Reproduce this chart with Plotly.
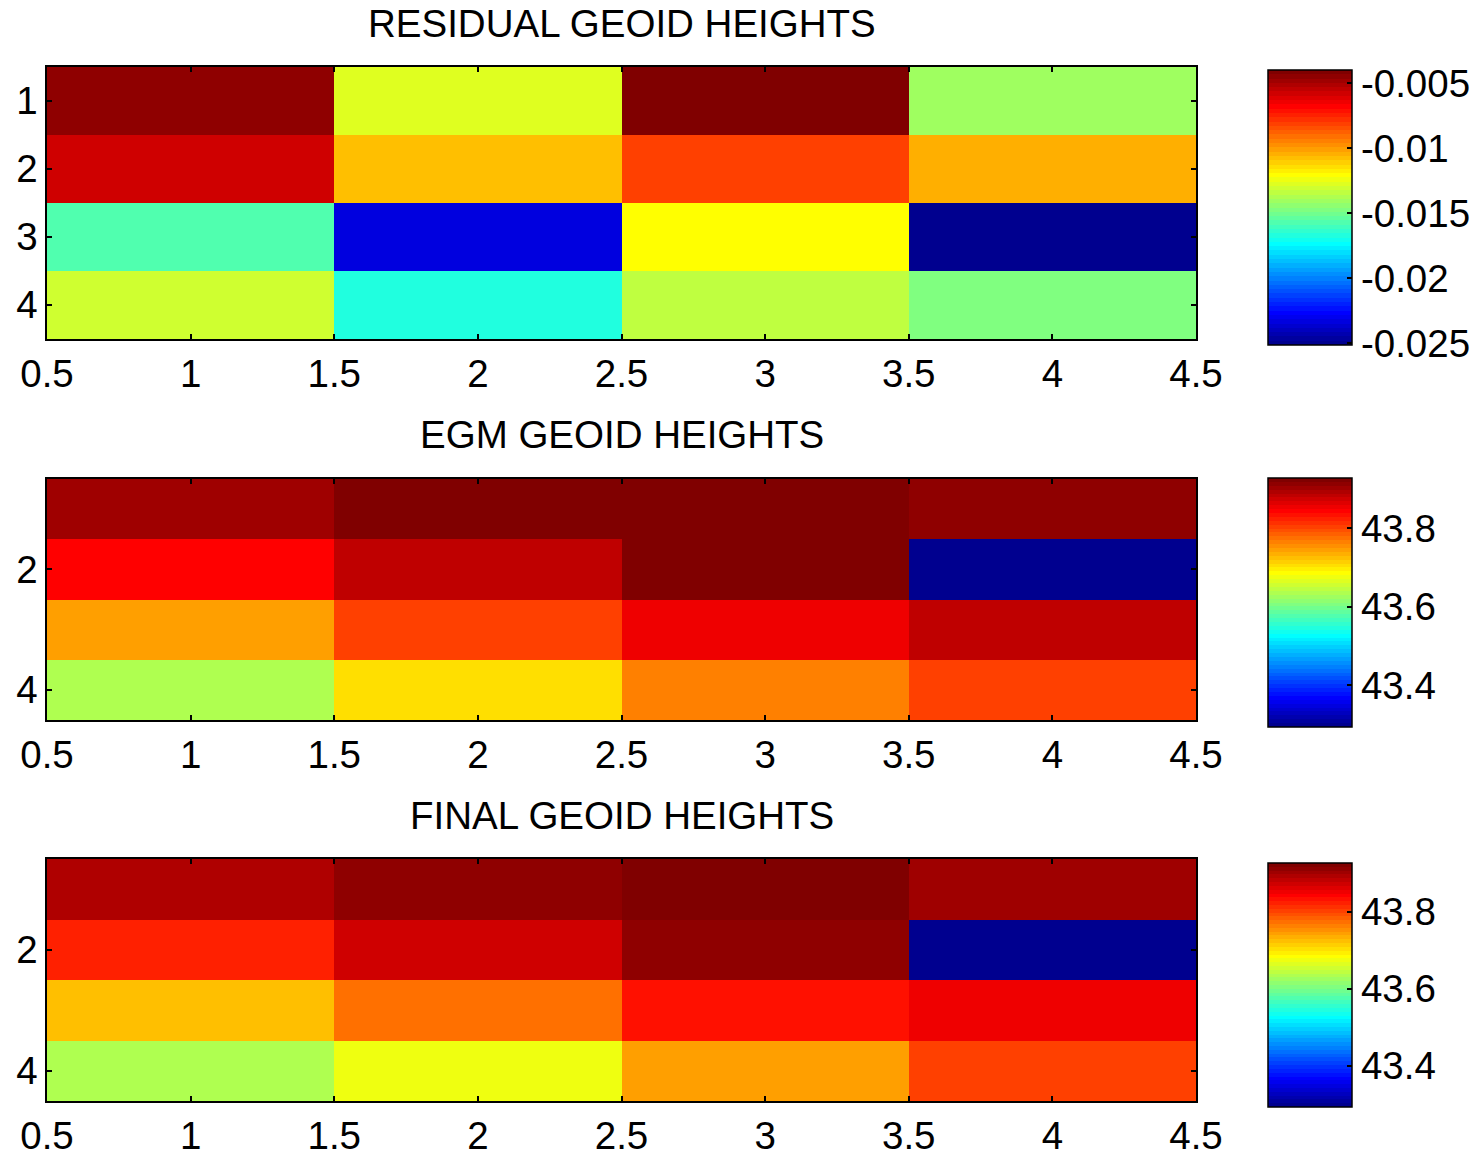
import plotly.graph_objects as go

# ---------------- data ----------------
cols = [1, 2, 3, 4]
rows = [1, 2, 3, 4]

residual = [
    [-0.00447, -0.01274, -0.00398, -0.01408],
    [-0.00580, -0.01075, -0.00811, -0.01044],
    [-0.01573, -0.02333, -0.01209, -0.02515],
    [-0.01308, -0.01672, -0.01340, -0.01473],
]
egm = [
    [43.903, 43.928, 43.925, 43.913],
    [43.844, 43.884, 43.922, 43.2935],
    [43.745, 43.804, 43.854, 43.884],
    [43.636, 43.705, 43.764, 43.804],
]
final = [
    [43.892, 43.912, 43.927, 43.902],
    [43.823, 43.872, 43.912, 43.293],
    [43.724, 43.774, 43.833, 43.853],
    [43.635, 43.675, 43.744, 43.803],
]

titles = ["RESIDUAL GEOID HEIGHTS", "EGM GEOID HEIGHTS", "FINAL GEOID HEIGHTS"]
x_tickvals = [0.5, 1, 1.5, 2, 2.5, 3, 3.5, 4, 4.5]
x_ticktext = ["0.5", "1", "1.5", "2", "2.5", "3", "3.5", "4", "4.5"]
y_ticks_1 = [1, 2, 3, 4]
y_ticks_23 = [2, 4]
cb1_vals = [-0.005, -0.01, -0.015, -0.02, -0.025]
cb1_text = ["-0.005", "-0.01", "-0.015", "-0.02", "-0.025"]
cb23_vals = [43.8, 43.6, 43.4]
cb23_text = ["43.8", "43.6", "43.4"]

# ---------------- jet(64) colormap ----------------
def jet64():
    out = []
    for i in range(1, 65):
        if i <= 8:
            r, g, b = 0, 0, 0.5 + i / 16
        elif i <= 24:
            r, g, b = 0, (i - 8) / 16, 1
        elif i <= 40:
            r, g, b = (i - 24) / 16, 1, 1 - (i - 24) / 16
        elif i <= 56:
            r, g, b = 1, 1 - (i - 40) / 16, 0
        else:
            r, g, b = 1 - (i - 56) / 16, 0, 0
        out.append("rgb(%d,%d,%d)" % (round(r * 255), round(g * 255), round(b * 255)))
    return out

jc = jet64()
jet_scale = []
for k, c in enumerate(jc):
    jet_scale.append([k / 64, c])
    jet_scale.append([(k + 1) / 64, c])

W, H = 1482, 1158
FONT = "Arial, Liberation Sans, sans-serif"
FS = 38.5

# pixel geometry (page pixels; body margin removed below)
px_x0, px_x1 = 47, 1196
panels_y = [(67, 339), (479, 720), (859, 1101)]
cbar_y = [(70, 345), (478, 727), (863, 1107)]
title_y = [23, 434, 815]
cb_x0, cb_x1 = 1268, 1352

def fx(px):
    return px / W

def fy(py):
    return 1 - py / H

fig = go.Figure()
datasets = [residual, egm, final]
for p in range(3):
    z = datasets[p]
    cy0, cy1 = cbar_y[p]
    if p == 0:
        tv, tt = cb1_vals, cb1_text
    else:
        tv, tt = cb23_vals, cb23_text
    fig.add_trace(go.Heatmap(
        z=z, x=cols, y=rows,
        colorscale=jet_scale,
        xaxis="x" if p == 0 else "x%d" % (p + 1),
        yaxis="y" if p == 0 else "y%d" % (p + 1),
        colorbar=dict(
            x=fx(cb_x0), xanchor="left", xpad=0, ypad=0,
            y=fy((cy0 + cy1) / 2), yanchor="middle",
            len=(cy1 - cy0) / H, lenmode="fraction",
            thickness=cb_x1 - cb_x0, thicknessmode="pixels",
            outlinewidth=1.5, outlinecolor="black",
            ticks="inside", ticklen=5, tickwidth=2, tickcolor="black",
            tickvals=tv, ticktext=tt,
            tickfont=dict(family=FONT, size=FS, color="black"),
        ),
        showscale=True,
        hoverinfo="z",
    ))

layout = dict(
    width=W, height=H,
    margin=dict(l=0, r=0, t=0, b=0, pad=0, autoexpand=False),
    paper_bgcolor="white", plot_bgcolor="white",
    showlegend=False,
    annotations=[],
)
for p in range(3):
    sx = "" if p == 0 else str(p + 1)
    y0, y1 = panels_y[p]
    layout["xaxis" + sx] = dict(
        domain=[fx(px_x0), fx(px_x1)], range=[0.5, 4.5],
        anchor="y" + sx, automargin=False,
        tickvals=x_tickvals, ticktext=x_ticktext,
        ticks="inside", ticklen=5, tickwidth=2, tickcolor="black",
        showline=True, linecolor="black", linewidth=1.5, mirror="ticks",
        showgrid=False, zeroline=False,
        tickfont=dict(family=FONT, size=FS, color="black"),
    )
    layout["yaxis" + sx] = dict(
        domain=[fy(y1), fy(y0)], range=[4.5, 0.5],
        anchor="x" + sx, automargin=False,
        tickvals=y_ticks_1 if p == 0 else y_ticks_23,
        ticktext=[str(v) for v in (y_ticks_1 if p == 0 else y_ticks_23)],
        ticks="inside", ticklen=5, tickwidth=2, tickcolor="black",
        showline=True, linecolor="black", linewidth=1.5, mirror="ticks",
        showgrid=False, zeroline=False,
        tickfont=dict(family=FONT, size=FS, color="black"),
    )
    layout["annotations"].append(dict(
        text=titles[p], x=fx((px_x0 + px_x1) / 2), y=fy(title_y[p]),
        xref="paper", yref="paper", xanchor="center", yanchor="middle",
        showarrow=False, font=dict(family=FONT, size=FS, color="black"),
    ))

fig.update_layout(**layout)
fig.write_html(
    "out.html",
    config={"displayModeBar": False},
    post_script="document.body.style.margin='0';document.body.style.overflow='hidden';",
)
